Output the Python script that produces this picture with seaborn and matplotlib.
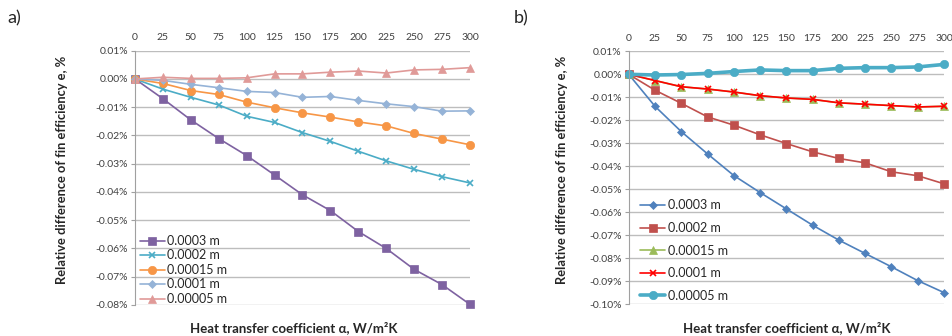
import numpy as np
import pandas as pd
import matplotlib
matplotlib.use("Agg")
import matplotlib.pyplot as plt
import seaborn as sns
from matplotlib.ticker import FuncFormatter

# heat transfer coefficient, W/m2K
alpha = [0, 25, 50, 75, 100, 125, 150, 175, 200, 225, 250, 275, 300]

# panel a) relative difference of fin efficiency, %
a_0003 = [0, -0.0070, -0.0145, -0.0211, -0.0271, -0.0340, -0.0410, -0.0466, -0.0540, -0.0600, -0.0674, -0.0728, -0.0798]
a_0002 = [0, -0.0036, -0.0065, -0.0092, -0.0132, -0.0154, -0.0190, -0.0221, -0.0256, -0.0290, -0.0320, -0.0346, -0.0368]
a_00015 = [0, -0.0016, -0.0041, -0.0055, -0.0082, -0.0102, -0.0120, -0.0135, -0.0152, -0.0166, -0.0193, -0.0213, -0.0233]
a_0001 = [0, -0.0005, -0.0019, -0.0031, -0.0044, -0.0048, -0.0065, -0.0062, -0.0076, -0.0088, -0.0098, -0.0114, -0.0113]
a_00005 = [0, 0.0006, 0.0002, 0.0002, 0.0004, 0.0018, 0.0018, 0.0024, 0.0028, 0.0021, 0.0032, 0.0034, 0.0040]

# panel b)
b_0003 = [0, -0.0139, -0.0249, -0.0346, -0.0440, -0.0514, -0.0585, -0.0656, -0.0721, -0.0779, -0.0837, -0.0897, -0.0949]
b_0002 = [0, -0.0069, -0.0126, -0.0185, -0.0221, -0.0263, -0.0301, -0.0337, -0.0366, -0.0385, -0.0424, -0.0441, -0.0476]
b_00015 = [0, -0.0027, -0.0054, -0.0064, -0.0077, -0.0093, -0.0103, -0.0109, -0.0124, -0.0130, -0.0136, -0.0142, -0.0139]
b_0001 = [0, -0.0027, -0.0054, -0.0064, -0.0077, -0.0093, -0.0103, -0.0109, -0.0124, -0.0130, -0.0136, -0.0142, -0.0139]
b_00005 = [0, -0.0003, -0.0001, 0.0004, 0.0012, 0.0019, 0.0016, 0.0016, 0.0026, 0.0029, 0.0029, 0.0032, 0.0043]

labels = ["0.0003 m", "0.0002 m", "0.00015 m", "0.0001 m", "0.00005 m"]

sns.set_style("white")
plt.rcParams["font.family"] = ["Lato", "DejaVu Sans"]

fig = plt.figure(figsize=(9.52, 3.36), dpi=100)
ax_a = fig.add_axes([0.1418, 0.0923, 0.3519, 0.7568])
ax_b = fig.add_axes([0.6604, 0.0943, 0.3312, 0.7530])

# (values, colour, marker, markersize, linewidth)
style_a = [
    (a_0003, "#7E62A1", "s", 6, 1.2),
    (a_0002, "#4BACC6", "x", 5, 1.2),
    (a_00015, "#F79646", "o", 6, 1.2),
    (a_0001, "#95B3D7", "D", 4, 1.2),
    (a_00005, "#E09A98", "^", 6, 1.2),
]
style_b = [
    (b_0003, "#4F81BD", "D", 4, 1.2),
    (b_0002, "#C0504D", "s", 6, 1.2),
    (b_00015, "#9BBB59", "^", 6, 1.2),
    (b_0001, "#FF0000", "x", 5, 1.2),
    (b_00005, "#4BACC6", "o", 6, 2.6),
]


def draw_panel(ax, styles, ymin, n_ticks):
    for (vals, color, marker, ms, lw), lab in zip(styles, labels):
        df = pd.DataFrame({"alpha": alpha, "e": vals})
        sns.lineplot(data=df, x="alpha", y="e", ax=ax, color=color,
                     marker=marker, markersize=ms, linewidth=lw,
                     markeredgecolor=color, markeredgewidth=1.2 if marker == "x" else 0.5,
                     label=lab, clip_on=False)
    ax.set_xlim(0, 300)
    ax.set_ylim(ymin, 0.01)
    ax.set_xticks(alpha)
    ax.set_yticks(np.linspace(ymin, 0.01, n_ticks))
    ax.yaxis.set_major_formatter(FuncFormatter(lambda v, p: f"{round(v, 4) + 0.0:.2f}%"))
    ax.xaxis.tick_top()
    ax.tick_params(axis="x", length=0, pad=6, labelsize=7.5, colors="#404040")
    ax.tick_params(axis="y", length=3, width=0.8, color="#A0A0A0", pad=2,
                   labelsize=7.5, labelcolor="#404040", left=True)
    ax.grid(axis="y", color="#BDBDBD", linewidth=1)
    ax.grid(axis="x", visible=False)
    for s in ["top", "right", "bottom"]:
        ax.spines[s].set_visible(False)
    ax.spines["left"].set_color("#A0A0A0")
    ax.set_xlabel("Heat transfer coefficient α, W/m²K", fontsize=9.5, fontweight="bold")
    ax.xaxis.set_label_position("bottom")
    ax.set_ylabel("Relative difference of fin efficiency e, %", fontsize=9.3, fontweight="bold")


draw_panel(ax_a, style_a, -0.08, 10)
draw_panel(ax_b, style_b, -0.10, 12)

ax_a.xaxis.set_label_coords(0.475, -0.065)
ax_a.yaxis.set_label_coords(-0.2, 0.53)
ax_b.xaxis.set_label_coords(0.5, -0.065)
ax_b.yaxis.set_label_coords(-0.193, 0.53)

ax_a.legend(loc="upper left", bbox_to_anchor=(0.0, 0.295), frameon=False,
            fontsize=9, handlelength=2.0, handletextpad=0.2,
            labelspacing=0.2, borderaxespad=0)
ax_b.legend(loc="upper left", bbox_to_anchor=(0.02, 0.435), frameon=False,
            fontsize=9, handlelength=2.0, handletextpad=0.2,
            labelspacing=0.85, borderaxespad=0)

fig.text(0.008, 0.93, "a)", fontsize=13)
fig.text(0.54, 0.93, "b)", fontsize=13)

plt.savefig("out.png", dpi=100)
plt.close()
